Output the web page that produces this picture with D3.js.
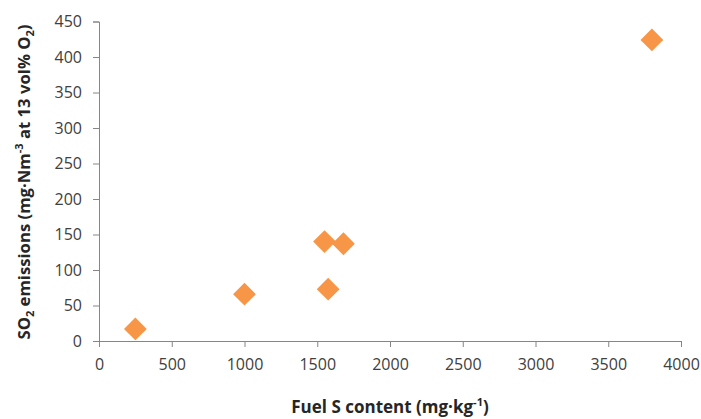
<!DOCTYPE html>
<html>
<head>
<meta charset="utf-8">
<script src="https://cdn.jsdelivr.net/npm/d3@7"></script>
<style>
  body { margin: 0; background: #fff; }
  text { font-family: "Open Sans", sans-serif; }
</style>
</head>
<body>
<div id="chart"></div>
<script>
// data
const fuelS = [250, 1000, 1550, 1680, 1575, 3800];
const so2 = [17, 66, 140, 137, 73, 424];
const xTicks = [0, 500, 1000, 1500, 2000, 2500, 3000, 3500, 4000];
const yTicks = [0, 50, 100, 150, 200, 250, 300, 350, 400, 450];

const W = 701, H = 419;
const margin = { left: 99, right: 20, top: 21.5, bottom: 78 };

const svg = d3.select("#chart").append("svg")
  .attr("width", W).attr("height", H);

const x = d3.scaleLinear().domain([0, 4000]).range([margin.left, 681]);
const y = d3.scaleLinear().domain([0, 450]).range([341, margin.top]);

const axisColor = "#868686";

// x axis
const gx = svg.append("g")
  .attr("transform", `translate(0,${y(0)})`)
  .call(d3.axisBottom(x).tickValues(xTicks).tickSize(6).tickPadding(12).tickFormat(d3.format("d")));
gx.select(".domain").attr("stroke", axisColor);
gx.selectAll(".tick line").attr("stroke", axisColor);
gx.selectAll(".tick text").attr("fill", "#404040").style("font-size", "16px");

// y axis
const gy = svg.append("g")
  .attr("transform", `translate(${x(0)},0)`)
  .call(d3.axisLeft(y).tickValues(yTicks).tickSize(6).tickPadding(11).tickFormat(d3.format("d")));
gy.select(".domain").attr("stroke", axisColor);
gy.selectAll(".tick line").attr("stroke", axisColor);
gy.selectAll(".tick text").attr("fill", "#404040").style("font-size", "16px");

// points (diamonds)
const diamond = d3.symbol().type(d3.symbolSquare).size(260);
svg.append("g").selectAll("path")
  .data(fuelS.map((v, i) => [v, so2[i]]))
  .join("path")
  .attr("d", diamond)
  .attr("transform", d => `translate(${x(d[0])},${y(d[1])}) rotate(45)`)
  .attr("fill", "#F79646");

// axis titles
const xt = svg.append("text")
  .attr("x", 390).attr("y", 413)
  .attr("text-anchor", "middle")
  .attr("font-weight", "bold")
  .attr("fill", "#262626")
  .style("font-size", "17px");
xt.append("tspan").text("Fuel S content (mg·kg");
xt.append("tspan").text("-1").attr("dy", -7).style("font-size", "11px");
xt.append("tspan").text(")").attr("dy", 7);

const yt = svg.append("text")
  .attr("transform", `translate(30,182) rotate(-90)`)
  .attr("text-anchor", "middle")
  .attr("font-weight", "bold")
  .attr("fill", "#262626")
  .style("font-size", "16.7px");
yt.append("tspan").text("SO");
yt.append("tspan").text("2").attr("dy", 4).style("font-size", "11px");
yt.append("tspan").text(" emissions (mg·Nm").attr("dy", -4);
yt.append("tspan").text("-3").attr("dy", -7).style("font-size", "11px");
yt.append("tspan").text(" at 13 vol% O").attr("dy", 7);
yt.append("tspan").text("2").attr("dy", 4).style("font-size", "11px");
yt.append("tspan").text(")").attr("dy", -4);
</script>
</body>
</html>
